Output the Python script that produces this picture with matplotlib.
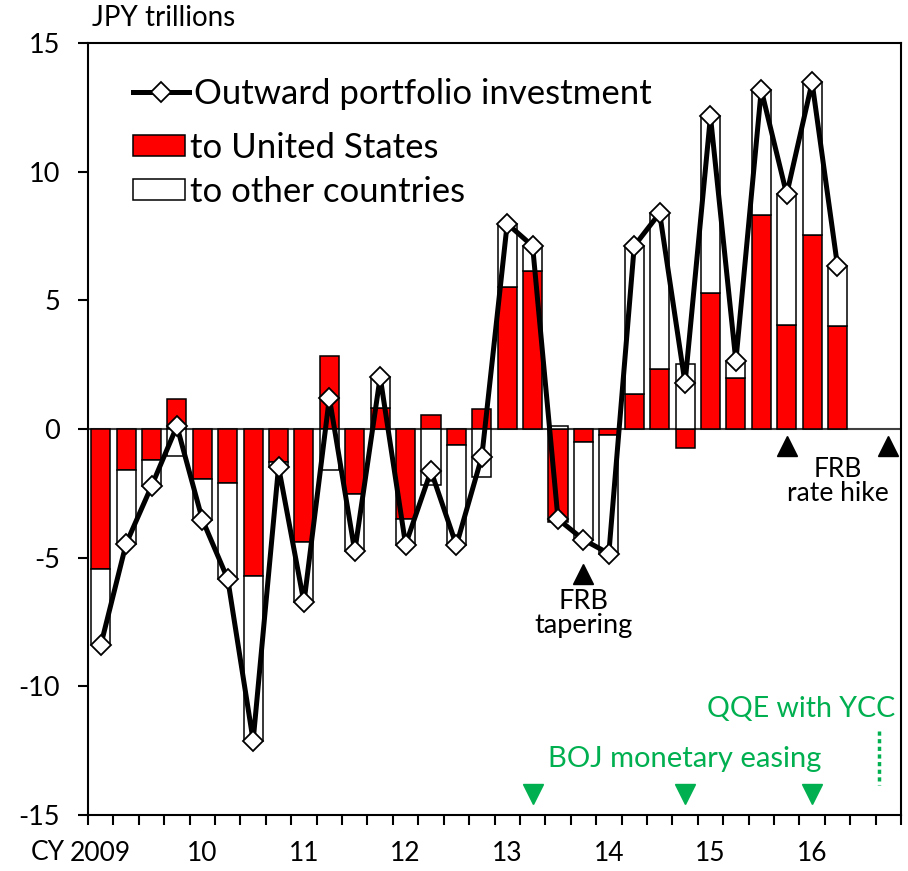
import matplotlib
matplotlib.use('Agg')
import matplotlib.pyplot as plt
from matplotlib.lines import Line2D
from matplotlib.patches import Patch
import numpy as np

plt.rcParams['font.family'] = ['Lato', 'DejaVu Sans']

# ---- data (JPY trillions), quarterly 2009Q1 - 2016Q2 ----
quarters = ['2009Q1', '2009Q2', '2009Q3', '2009Q4',
            '2010Q1', '2010Q2', '2010Q3', '2010Q4',
            '2011Q1', '2011Q2', '2011Q3', '2011Q4',
            '2012Q1', '2012Q2', '2012Q3', '2012Q4',
            '2013Q1', '2013Q2', '2013Q3', '2013Q4',
            '2014Q1', '2014Q2', '2014Q3', '2014Q4',
            '2015Q1', '2015Q2', '2015Q3', '2015Q4',
            '2016Q1', '2016Q2']
to_us = [-5.44, -1.61, -1.19, 1.15,
         -1.96, -2.09, -5.70, -1.28,
         -4.39, 2.82, -2.51, 0.80,
         -3.50, 0.53, -0.63, 0.79,
         5.53, 6.14, -3.62, -0.50,
         -0.24, 1.37, 2.34, -0.73,
         5.27, 1.99, 8.32, 4.03,
         7.53, 4.00]
to_other = [-2.97, -2.85, -1.03, -1.04,
            -1.56, -3.74, -6.41, -0.19,
            -2.35, -1.61, -2.24, 1.22,
            -0.99, -2.16, -3.89, -1.87,
            2.45, 0.97, 0.12, -3.80,
            -4.60, 5.74, 6.05, 2.51,
            6.88, 0.65, 4.86, 5.09,
            5.94, 2.34]
total = [-8.41, -4.46, -2.22, 0.11,
         -3.52, -5.83, -12.11, -1.47,
         -6.74, 1.21, -4.75, 2.02,
         -4.49, -1.63, -4.52, -1.08,
         7.98, 7.11, -3.50, -4.30,
         -4.84, 7.11, 8.39, 1.78,
         12.15, 2.64, 13.18, 9.12,
         13.47, 6.34]
n_slots = 32  # 2009Q1 .. 2016Q4
year_labels = ['2009', '10', '11', '12', '13', '14', '15', '16']
year_slots = [0, 4, 8, 12, 16, 20, 24, 28]
y_ticks = [-15, -10, -5, 0, 5, 10, 15]

# events (quarter slot index)
boj_easing = [17, 23, 28]       # 2013Q2, 2014Q4, 2016Q1
frb_taper = [19]                 # 2013Q4
frb_hike = [27, 31]              # 2015Q4, 2016Q4
qqe_ycc = 30.65                  # end of 2016Q3

GREEN = '#00B050'

fig = plt.figure(figsize=(9.08, 8.71), dpi=100)
ax = fig.add_axes([88/908, 1-815/871, (901-88)/908, (815-43)/871])

x = np.arange(len(to_us))
us = np.array(to_us)
oth = np.array(to_other)
oth_bottom = np.where(np.sign(oth) == np.sign(us), us, 0.0)

ax.axhline(0, color='#404040', lw=1.5, zorder=1)
ax.bar(x, us, width=0.75, color='#FF0000', edgecolor='black', linewidth=1.1, zorder=2)
ax.bar(x, oth, bottom=oth_bottom, width=0.75, color='white', edgecolor='black',
       linewidth=1.1, zorder=2)
ax.plot(x, total, color='black', lw=3.6, marker='D', ms=10, mfc='white',
        mec='black', mew=1.3, zorder=4)

ax.set_xlim(-0.5, n_slots - 0.5)
ax.set_ylim(-15, 15)
ax.set_yticks(y_ticks)
ax.set_yticklabels([str(v) for v in y_ticks])
ax.tick_params(axis='y', direction='out', length=7, width=1.5, labelsize=19.5, pad=13)
ax.set_xticks(np.arange(-0.5, n_slots, 1), minor=True)
ax.set_xticks(year_slots)
ax.set_xticklabels(year_labels)
ax.tick_params(axis='x', which='major', length=0, labelsize=19, pad=19)
ax.tick_params(axis='x', which='minor', direction='out', length=7, width=1.5)
for s in ax.spines.values():
    s.set_linewidth(1.5)

# CY label and unit label
fig.text(48/908, 1-852/871, 'CY', fontsize=19, ha='center', va='center')
fig.text(92/908, 1-18/871, 'JPY trillions', fontsize=20, ha='left', va='center')

# FRB markers
ax.plot(frb_taper, [-5.62], marker='^', color='black', ms=15, ls='none', zorder=5)
ax.text(frb_taper[0], -6.2, 'FRB\ntapering', fontsize=19.5, ha='center', va='top',
        linespacing=0.95)
ax.plot(frb_hike, [-0.68, -0.68], marker='^', color='black', ms=15, ls='none',
        zorder=5, clip_on=False)
ax.text(29.0, -1.1, 'FRB\nrate hike', fontsize=19, ha='center', va='top',
        linespacing=0.95)

# BOJ markers
ax.plot(boj_easing, [-14.2] * 3, marker='v', color=GREEN, ms=15, ls='none', zorder=5)
ax.text(23.0, -12.83, 'BOJ monetary easing', fontsize=21, color=GREEN,
        ha='center', va='center')
ax.plot([qqe_ycc, qqe_ycc], [-11.74, -13.84], color=GREEN, lw=2.5, ls=(0, (1.2, 1.0)))
ax.text(31.27, -10.88, 'QQE with YCC', fontsize=20.5, color=GREEN,
        ha='right', va='center')

# legends
h_line = Line2D([0], [0], color='black', lw=3.6, marker='D', ms=10, mfc='white',
                mec='black', mew=1.3)
leg1 = ax.legend([h_line], ['Outward portfolio investment'], loc='upper left',
                 bbox_to_anchor=(133/908, 1-78/871), bbox_transform=fig.transFigure,
                 frameon=False, fontsize=25, handlelength=1.6, handletextpad=0.15,
                 borderpad=0, borderaxespad=0)
ax.add_artist(leg1)
h_us = Patch(facecolor='#FF0000', edgecolor='black', linewidth=1.1)
h_oth = Patch(facecolor='white', edgecolor='black', linewidth=1.1)
ax.legend([h_us, h_oth], ['to United States', 'to other countries'], loc='upper left',
          bbox_to_anchor=(133/908, 1-132/871), bbox_transform=fig.transFigure,
          frameon=False, fontsize=25, handlelength=1.5, handleheight=0.55,
          handletextpad=0.15, labelspacing=0.35, borderpad=0, borderaxespad=0)

fig.savefig('out.png', dpi=100)
